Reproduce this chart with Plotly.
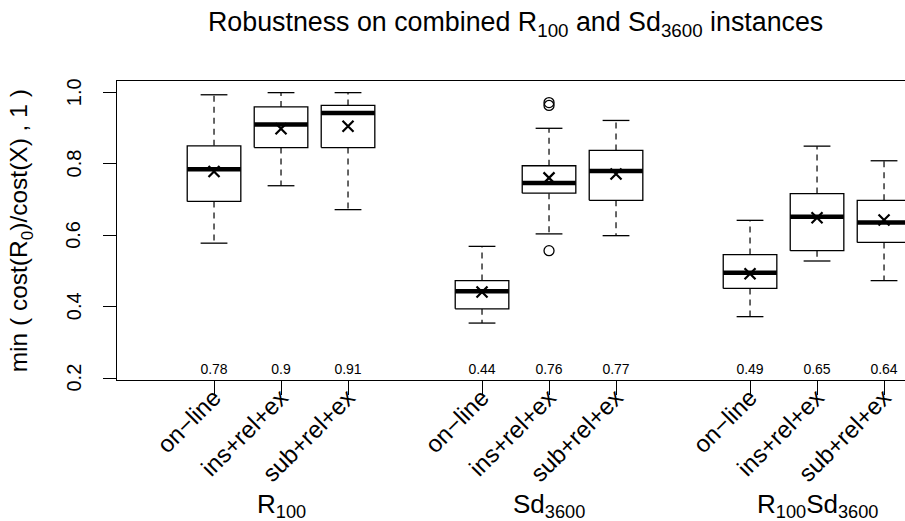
import plotly.graph_objects as go

# ---------------- data ----------------
group_labels = ["R<sub>100</sub>", "Sd<sub>3600</sub>", "R<sub>100</sub>Sd<sub>3600</sub>"]
method_labels = ["on\u2212line", "ins+rel+ex", "sub+rel+ex"]

lower_whisker = [0.578, 0.739, 0.672, 0.354, 0.604, 0.599, 0.372, 0.528, 0.473]
q1 = [0.695, 0.846, 0.846, 0.394, 0.718, 0.698, 0.451, 0.557, 0.580]
median = [0.785, 0.911, 0.943, 0.443, 0.747, 0.780, 0.495, 0.652, 0.636]
q3 = [0.851, 0.960, 0.964, 0.473, 0.795, 0.838, 0.546, 0.717, 0.698]
upper_whisker = [0.994, 1.000, 1.000, 0.569, 0.900, 0.922, 0.642, 0.850, 0.809]
means = [0.779, 0.899, 0.906, 0.441, 0.761, 0.772, 0.492, 0.649, 0.643]
# outliers: (box index, value)
outlier_box = [4, 4, 4]
outlier_val = [0.972, 0.964, 0.557]

y_ticks = [0.2, 0.4, 0.6, 0.8, 1.0]

# ---------------- layout helpers ----------------
n_groups = len(group_labels)
n_methods = len(method_labels)
pos = [g * (n_methods + 1) + m + 1 for g in range(n_groups) for m in range(n_methods)]
tick_text = [method_labels[m] for g in range(n_groups) for m in range(n_methods)]
group_centers = [g * (n_methods + 1) + (n_methods + 1) / 2 for g in range(n_groups)]

BOX_HALF = 0.4
CAP_HALF = 0.2
LABEL_Y = 0.221
FONT = "Liberation Sans, Arial, Helvetica, sans-serif"

bx, by, mx, my, wx, wy, cx, cy = [], [], [], [], [], [], [], []
for i, p in enumerate(pos):
    bx += [p - BOX_HALF, p + BOX_HALF, p + BOX_HALF, p - BOX_HALF, p - BOX_HALF, None]
    by += [q1[i], q1[i], q3[i], q3[i], q1[i], None]
    mx += [p - BOX_HALF, p + BOX_HALF, None]
    my += [median[i], median[i], None]
    wx += [p, p, None, p, p, None]
    wy += [q3[i], upper_whisker[i], None, q1[i], lower_whisker[i], None]
    cx += [p - CAP_HALF, p + CAP_HALF, None, p - CAP_HALF, p + CAP_HALF, None]
    cy += [upper_whisker[i], upper_whisker[i], None, lower_whisker[i], lower_whisker[i], None]

fig = go.Figure()
fig.add_trace(go.Scatter(x=wx, y=wy, mode="lines",
                         line=dict(color="black", width=1.2, dash="6px,5px"),
                         hoverinfo="skip", showlegend=False))
fig.add_trace(go.Scatter(x=cx, y=cy, mode="lines",
                         line=dict(color="black", width=1.3),
                         hoverinfo="skip", showlegend=False))
fig.add_trace(go.Scatter(x=bx, y=by, mode="lines", fill="toself", fillcolor="white",
                         line=dict(color="black", width=1.3),
                         hoverinfo="skip", showlegend=False))
fig.add_trace(go.Scatter(x=mx, y=my, mode="lines",
                         line=dict(color="black", width=4.5),
                         hoverinfo="skip", showlegend=False))
fig.add_trace(go.Scatter(x=[pos[b] for b in outlier_box], y=outlier_val, mode="markers",
                         marker=dict(symbol="circle-open", size=10, color="black",
                                     line=dict(width=1.3, color="black")),
                         hoverinfo="skip", showlegend=False))
fig.add_trace(go.Scatter(x=pos, y=means, mode="markers",
                         marker=dict(symbol="x-thin-open", size=11, color="black",
                                     line=dict(width=2.2, color="black")),
                         hoverinfo="skip", showlegend=False))
fig.add_trace(go.Scatter(x=pos, y=[LABEL_Y] * len(pos), mode="text",
                         text=[f"{round(m, 2):g}" for m in means],
                         textposition="middle center",
                         textfont=dict(family=FONT, size=14, color="black"),
                         hoverinfo="skip", showlegend=False))

annotations = []
# y tick labels (rotated, as in R)
for v in y_ticks:
    annotations.append(dict(x=-0.0552, xref="paper", y=v, yref="y", text=f"{v:.1f}",
                            textangle=-90, showarrow=False,
                            xanchor="center", yanchor="middle",
                            font=dict(family=FONT, size=20, color="black")))
for g, c in enumerate(group_centers):
    annotations.append(dict(x=c, xref="x", y=-0.42, yref="paper", text=group_labels[g],
                            showarrow=False, xanchor="center", yanchor="middle",
                            font=dict(family=FONT, size=26, color="black")))
annotations.append(dict(x=0.5055, xref="paper", y=1.19, yref="paper",
                        text="Robustness on combined R<sub>100</sub> and Sd<sub>3600</sub> instances",
                        showarrow=False, xanchor="center", yanchor="middle",
                        font=dict(family=FONT, size=26.8, color="black")))
annotations.append(dict(x=-0.122, xref="paper", y=0.5, yref="paper", textangle=-90,
                        text="min ( cost(R<sub>0</sub>)/cost(X) , 1 )",
                        showarrow=False, xanchor="center", yanchor="middle",
                        font=dict(family=FONT, size=24.5, color="black")))

fig.update_layout(
    width=905, height=521,
    margin=dict(l=117, r=0, t=81, b=141, autoexpand=False),
    paper_bgcolor="white", plot_bgcolor="white",
    font=dict(family=FONT, color="black"),
    annotations=annotations,
    xaxis=dict(range=[-0.448, 11.313], tickmode="array", tickvals=pos, ticktext=tick_text,
               tickangle=-45, ticks="outside", ticklen=14, tickwidth=1.2, tickcolor="black",
               ticklabelstandoff=-21, ticklabelshift=0, automargin=False,
               tickfont=dict(family=FONT, size=24, color="black"),
               showline=True, linecolor="black", linewidth=1.2, mirror=True,
               showgrid=False, zeroline=False, fixedrange=True),
    yaxis=dict(range=[0.1944, 1.0326], tickmode="array", tickvals=y_ticks,
               showticklabels=False,
               ticks="outside", ticklen=13, tickwidth=1.2, tickcolor="black",
               automargin=False,
               showline=True, linecolor="black", linewidth=1.2, mirror=False,
               showgrid=False, zeroline=False, fixedrange=True),
)

fig.write_html(
    "out.html",
    config={"displayModeBar": False},
    post_script="document.body.style.margin='0';document.body.style.overflow='hidden';",
)
